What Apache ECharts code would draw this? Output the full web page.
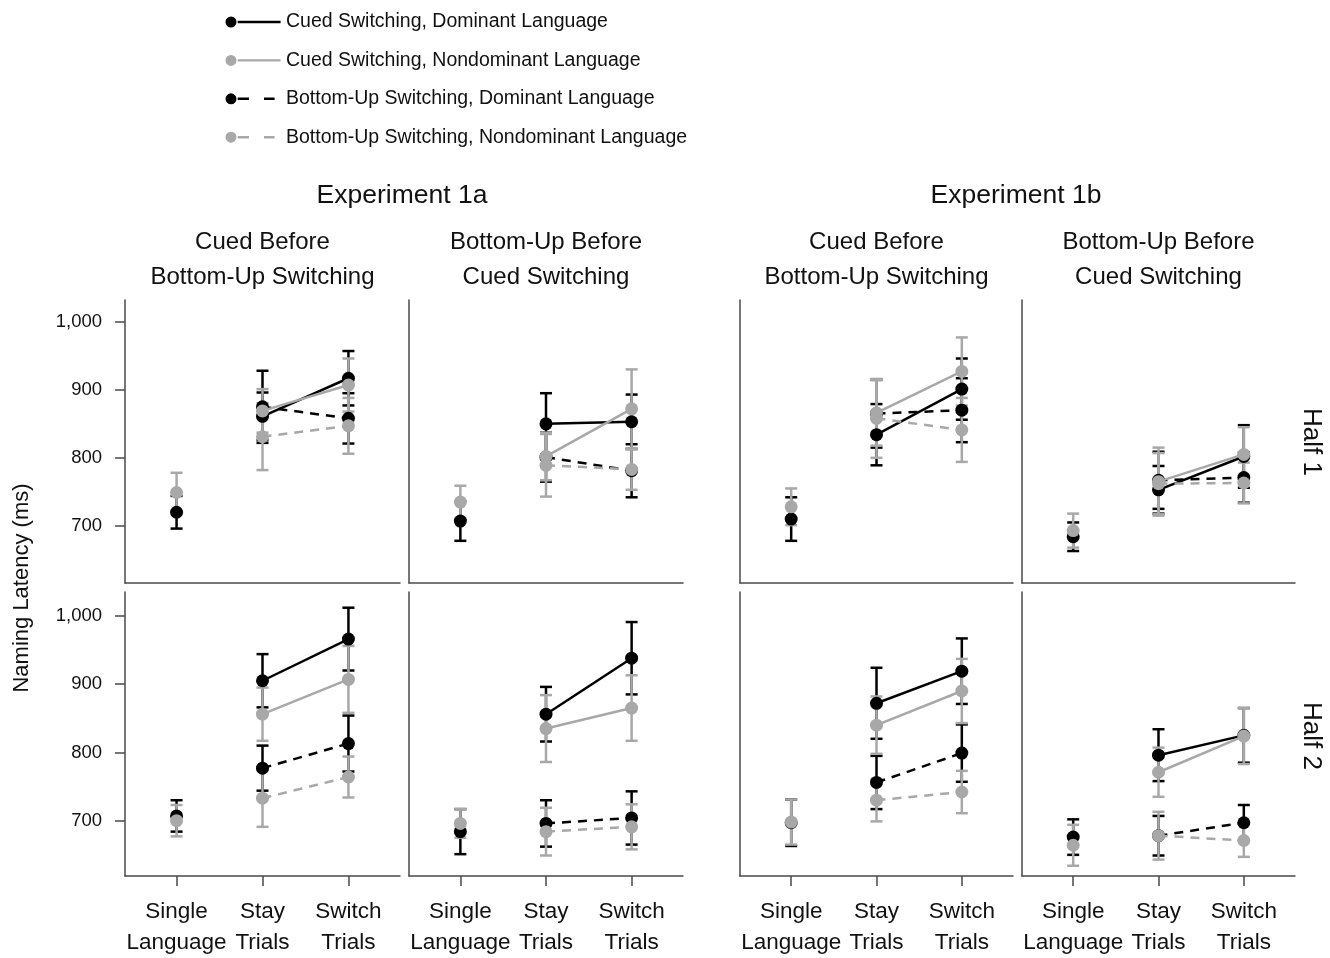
<!DOCTYPE html>
<html><head><meta charset="utf-8">
<script src="https://cdn.jsdelivr.net/npm/echarts@6/dist/echarts.min.js"></script>
<style>html,body{margin:0;padding:0;background:#fff}#c{width:1330px;height:958px}</style>
</head><body><div id="c"></div>
<script>
// ---------- data ----------
const categories = ['Single\nLanguage', 'Stay\nTrials', 'Switch\nTrials'];
const yTicks = [700, 800, 900, 1000];
const experiments = ['Experiment 1a', 'Experiment 1b'];
const orders = ['Cued Before\nBottom-Up Switching', 'Bottom-Up Before\nCued Switching',
                'Cued Before\nBottom-Up Switching', 'Bottom-Up Before\nCued Switching'];
const halves = ['Half 1', 'Half 2'];
const yAxisName = 'Naming Latency (ms)';
const seriesNames = ['Cued Switching, Dominant Language', 'Cued Switching, Nondominant Language',
                     'Bottom-Up Switching, Dominant Language', 'Bottom-Up Switching, Nondominant Language'];

// panels: [Half1: 1a-cued, 1a-bu, 1b-cued, 1b-bu, Half2: same order]
const singleDomMean = [720, 707, 710, 684, 707, 684, 697, 676];
const singleDomErr  = [24, 29, 32, 21, 23, 33, 34, 26];
const singleNonMean = [749, 735, 728, 693, 700, 696, 698, 664];
const singleNonErr  = [29, 24, 27, 25, 23, 21, 33, 30];

// [stay, switch]
const cuedDomMean = [[861, 917], [850, 853], [834, 901], [753, 802], [905, 966], [856, 938], [872, 919], [796, 825]];
const cuedDomErr  = [[35, 40], [45, 40], [45, 45], [35, 46], [39, 46], [40, 53], [52, 48], [38, 40]];
const cuedNonMean = [[869, 907], [802, 872], [866, 927], [765, 805], [856, 907], [835, 865], [840, 890], [771, 824]];
const cuedNonErr  = [[32, 39], [35, 58], [48, 50], [50, 40], [39, 49], [49, 48], [42, 47], [36, 41]];
const buDomMean   = [[875, 858], [801, 781], [865, 870], [767, 771], [777, 813], [696, 704], [756, 799], [678, 697]];
const buDomErr    = [[53, 37], [36, 39], [50, 47], [42, 37], [33, 41], [34, 39], [39, 42], [29, 26]];
const buNonMean   = [[831, 847], [789, 783], [858, 841], [762, 763], [733, 764], [684, 691], [730, 742], [678, 671]];
const buNonErr    = [[49, 41], [46, 30], [58, 47], [45, 30], [42, 30], [35, 33], [31, 31], [35, 24]];

// ---------- layout / style ----------
const FONT = '"Liberation Sans", Arial, sans-serif';
const BLACK = '#000000', GRAY = '#a8a8a8', AXIS = '#4a4a4a', TEXT = '#111111';
const colLeft = [125, 409, 740, 1022];
const colWidth = [275, 274, 273, 273];
const rowTop = [300, 592];
const rowHeight = [283, 284];
const rowMin = [616, 619];
const rowMax = [1032, 1035];
const DASH = [9, 7];

const grids = [], xAxes = [], yAxes = [], series = [];
const fmt = v => String(v).replace(/\B(?=(\d{3})+(?!\d))/g, ',');

const groups = [
  {name: seriesNames[0], color: BLACK, dashed: false, mean: cuedDomMean, err: cuedDomErr, sMean: singleDomMean, sErr: singleDomErr, z: 3},
  {name: seriesNames[2], color: BLACK, dashed: true,  mean: buDomMean,   err: buDomErr, z: 3},
  {name: seriesNames[1], color: GRAY,  dashed: false, mean: cuedNonMean, err: cuedNonErr, sMean: singleNonMean, sErr: singleNonErr, z: 4},
  {name: seriesNames[3], color: GRAY,  dashed: true,  mean: buNonMean,   err: buNonErr, z: 4}
];

for (let p = 0; p < 8; p++) {
  const row = Math.floor(p / 4), col = p % 4;
  grids.push({left: colLeft[col], width: colWidth[col], top: rowTop[row], height: rowHeight[row], containLabel: false});
  xAxes.push({
    type: 'value', gridIndex: p, min: 0.4, max: 3.6,
    axisLine: {show: true, onZero: false, lineStyle: {color: AXIS, width: 1.5}},
    axisTick: {show: row === 1, customValues: [1, 2, 3], length: 10, lineStyle: {color: AXIS, width: 1.5}},
    axisLabel: {show: row === 1, customValues: [1, 2, 3], formatter: v => categories[Math.round(v) - 1],
      showMinLabel: true, showMaxLabel: true, hideOverlap: false,
      fontFamily: FONT, fontSize: 22.5, lineHeight: 31, color: TEXT, margin: 20},
    splitLine: {show: false}
  });
  yAxes.push({
    type: 'value', gridIndex: p, min: rowMin[row], max: rowMax[row],
    axisLine: {show: true, onZero: false, lineStyle: {color: AXIS, width: 1.5}},
    axisTick: {show: col === 0, customValues: yTicks, length: 10, lineStyle: {color: AXIS, width: 1.5}},
    axisLabel: {show: col === 0, customValues: yTicks, formatter: v => fmt(v),
      showMinLabel: true, showMaxLabel: true,
      fontFamily: FONT, fontSize: 18.5, color: TEXT, margin: 23},
    splitLine: {show: false}
  });

  // error bars
  groups.forEach(g => {
    const eb = [];
    if (g.sMean) eb.push([1, g.sMean[p] - g.sErr[p], g.sMean[p] + g.sErr[p]]);
    eb.push([2, g.mean[p][0] - g.err[p][0], g.mean[p][0] + g.err[p][0]]);
    eb.push([3, g.mean[p][1] - g.err[p][1], g.mean[p][1] + g.err[p][1]]);
    const color = g.color;
    series.push({
      type: 'custom', xAxisIndex: p, yAxisIndex: p, z: 2, silent: true,
      data: eb, encode: {x: 0, y: [1, 2]},
      renderItem: (params, api) => {
        const x = api.value(0);
        const a = api.coord([x, api.value(1)]), b = api.coord([x, api.value(2)]);
        const w = 6, st = {stroke: color, lineWidth: 2.5};
        return {type: 'group', children: [
          {type: 'line', shape: {x1: a[0], y1: a[1], x2: b[0], y2: b[1]}, style: st},
          {type: 'line', shape: {x1: a[0] - w, y1: a[1], x2: a[0] + w, y2: a[1]}, style: st},
          {type: 'line', shape: {x1: b[0] - w, y1: b[1], x2: b[0] + w, y2: b[1]}, style: st}
        ]};
      }
    });
  });
  // lines + points
  groups.forEach(g => {
    const d = [];
    if (g.sMean) { d.push([1, g.sMean[p]]); d.push([1.5, '-']); }
    d.push([2, g.mean[p][0]]);
    d.push([3, g.mean[p][1]]);
    series.push({
      type: 'line', name: g.name, xAxisIndex: p, yAxisIndex: p, z: g.z,
      data: d, symbol: 'circle', symbolSize: 13, showSymbol: true, showAllSymbol: true,
      connectNulls: false, animation: false,
      itemStyle: {color: g.color, borderWidth: 0},
      lineStyle: {color: g.color, width: 2.5, type: g.dashed ? DASH : 'solid'}
    });
  });
}

// legend icons (dot on the left, line to the right) in a 56x12 box
const box = 'M0 0 L0.01 0 L0 0.01 Z M56 12 L55.99 12 L56 11.99 Z ';
const dot = 'M0.5 6 A5.5 5.5 0 1 1 11.5 6 A5.5 5.5 0 1 1 0.5 6 Z ';
const solidIcon = 'path://' + box + dot + 'M12.7 4.8 L55.6 4.8 L55.6 7.2 L12.7 7.2 Z';
const dashIcon = 'path://' + box + dot + 'M12.7 4.8 L24 4.8 L24 7.2 L12.7 7.2 Z M39 4.8 L49.6 4.8 L49.6 7.2 L39 7.2 Z';

const graphics = [];
const txt = (x, y, text, size, rot, lh) => ({
  type: 'text', x: x, y: y, rotation: rot || 0, silent: true,
  style: {text: text, fontFamily: FONT, fontSize: size, fill: TEXT, align: 'center', verticalAlign: 'middle', lineHeight: lh || size * 1.2}
});
graphics.push(txt(402, 196, experiments[0], 26.5));
graphics.push(txt(1016, 196, experiments[1], 26.5));
for (let c = 0; c < 4; c++) graphics.push(txt(colLeft[c] + colWidth[c] / 2, 259.5, orders[c], 24, 0, 35));
graphics.push(txt(1311, 442, halves[0], 26, -Math.PI / 2));
graphics.push(txt(1311, 736, halves[1], 26, -Math.PI / 2));
graphics.push(txt(22, 588, yAxisName, 22, Math.PI / 2));

const chart = echarts.init(document.getElementById('c'), null, {renderer: 'canvas'});
chart.setOption({
  backgroundColor: '#ffffff',
  animation: false,
  legend: {
    orient: 'vertical', left: 220, top: 4, itemWidth: 56, itemHeight: 12, itemGap: 12.4,
    selectedMode: false, itemStyle: {borderWidth: 0},
    textStyle: {fontFamily: FONT, fontSize: 19.5, color: TEXT, lineHeight: 26},
    data: seriesNames.map((n, i) => ({name: n, icon: i < 2 ? solidIcon : dashIcon}))
  },
  grid: grids, xAxis: xAxes, yAxis: yAxes, series: series, graphic: graphics
});
</script></body></html>
